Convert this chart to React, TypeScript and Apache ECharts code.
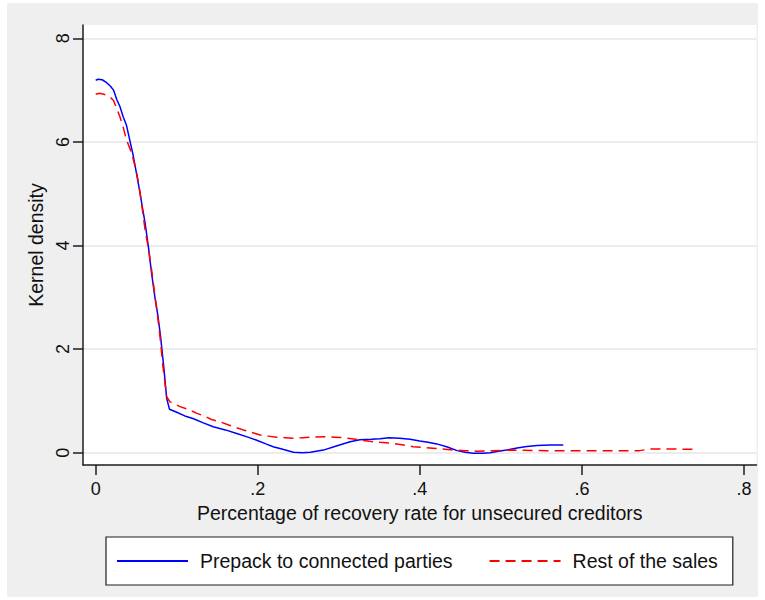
import React, { useEffect, useRef } from "react";
import * as echarts from "echarts";

const FONT = "'Liberation Sans', Arial, sans-serif";

const xTicks = [0, 0.2, 0.4, 0.6, 0.8];
const xTickLabels = ["0", ".2", ".4", ".6", ".8"];
const yTicks = [0, 2, 4, 6, 8];
const yTickLabels = ["0", "2", "4", "6", "8"];

const seriesNames = ["Prepack to connected parties", "Rest of the sales"];

const prepackX = [
  0.0, 0.003, 0.008, 0.013, 0.018, 0.022, 0.026, 0.03, 0.034, 0.038, 0.042, 0.046, 0.05, 0.054, 0.058,
  0.061, 0.065, 0.069, 0.073, 0.077, 0.08, 0.084, 0.0876, 0.091, 0.1, 0.11, 0.12, 0.132, 0.145, 0.16,
  0.174, 0.186, 0.198, 0.21, 0.219, 0.232, 0.244, 0.255, 0.265, 0.281, 0.297, 0.314, 0.326, 0.34, 0.351,
  0.362, 0.375, 0.388, 0.4, 0.41, 0.421, 0.434, 0.446, 0.456, 0.466, 0.478, 0.487, 0.497, 0.507, 0.52,
  0.532, 0.545, 0.561, 0.577,
];
const prepackY = [
  7.19, 7.21, 7.2, 7.15, 7.08, 7.0, 6.82, 6.68, 6.48, 6.32, 6.04, 5.76, 5.42, 5.08, 4.7,
  4.43, 3.98, 3.46, 3.01, 2.62, 2.25, 1.66, 1.05, 0.84, 0.78, 0.71, 0.66, 0.58, 0.5, 0.44,
  0.37, 0.31, 0.245, 0.17, 0.116, 0.06, 0.01, 0.0, 0.01, 0.05, 0.13, 0.21, 0.25, 0.26, 0.27,
  0.29, 0.28, 0.26, 0.225, 0.2, 0.17, 0.11, 0.04, 0.01, -0.01, -0.01, 0.0, 0.03, 0.05, 0.09,
  0.12, 0.14, 0.15, 0.15,
];

const restX = [
  0.0, 0.005, 0.01, 0.014, 0.018, 0.022, 0.026, 0.03, 0.034, 0.038, 0.044, 0.05, 0.054, 0.058, 0.061,
  0.065, 0.069, 0.073, 0.077, 0.08, 0.083, 0.0876, 0.0917, 0.104, 0.115, 0.125, 0.135, 0.143, 0.153,
  0.165, 0.182, 0.193, 0.203, 0.213, 0.223, 0.234, 0.244, 0.256, 0.268, 0.285, 0.295, 0.305, 0.316,
  0.326, 0.338, 0.351, 0.367, 0.38, 0.392, 0.404, 0.416, 0.428, 0.441, 0.455, 0.47, 0.49, 0.515,
  0.556, 0.597, 0.639, 0.671, 0.684, 0.712, 0.739,
];
const restY = [
  6.92, 6.94, 6.92, 6.9, 6.86, 6.8, 6.64, 6.48, 6.28, 6.04, 5.8, 5.45, 5.1, 4.65, 4.3,
  3.95, 3.53, 3.05, 2.56, 2.15, 1.66, 1.08, 0.98, 0.89, 0.83, 0.76, 0.7, 0.64, 0.6,
  0.53, 0.44, 0.39, 0.34, 0.32, 0.3, 0.29, 0.28, 0.29, 0.3, 0.31, 0.3, 0.29, 0.27,
  0.245, 0.22, 0.2, 0.18, 0.15, 0.116, 0.1, 0.085, 0.07, 0.05, 0.04, 0.03, 0.04, 0.05,
  0.04, 0.04, 0.04, 0.04, 0.07, 0.07, 0.065,
];

const zip = (xs: number[], ys: number[]) => xs.map((x, i) => [x, ys[i]]);

export default function App() {
  const ref = useRef<HTMLDivElement>(null);

  useEffect(() => {
    document.body.style.margin = "0";
    if (!ref.current) return;
    const chart = echarts.init(ref.current, undefined, { renderer: "svg" });
    const axisLineStyle = { color: "#1e1e1e", width: 1.5 };
    chart.setOption({
      animation: false,
      backgroundColor: "#efefef",
      textStyle: { fontFamily: FONT },
      grid: {
        left: 76,
        top: 22,
        right: 1.5,
        bottom: 132,
        show: true,
        backgroundColor: "#ffffff",
        borderWidth: 0,
        containLabel: false,
      },
      legend: {
        left: 99,
        top: 534,
        orient: "horizontal",
        backgroundColor: "#ffffff",
        borderColor: "#1e1e1e",
        borderWidth: 1.2,
        borderRadius: 0,
        padding: [13, 15, 13, 10],
        itemGap: 36,
        itemWidth: 71,
        itemHeight: 14,
        data: seriesNames,
        itemStyle: { opacity: 0, color: "transparent", borderWidth: 0 },
        textStyle: {
          fontFamily: FONT,
          fontSize: 19.5,
          color: "#111",
          padding: [0, 0, 0, 7],
          lineHeight: 22,
        },
      },
      xAxis: {
        type: "value",
        min: -0.01567,
        max: 0.8155,
        name: "Percentage of recovery rate for unsecured creditors",
        nameLocation: "middle",
        nameGap: 33,
        nameTextStyle: { fontFamily: FONT, fontSize: 19.5, color: "#111" },
        axisLine: { show: true, onZero: false, lineStyle: axisLineStyle },
        axisTick: { show: true, length: 10, lineStyle: axisLineStyle, customValues: xTicks },
        axisLabel: {
          customValues: xTicks,
          margin: 15,
          fontFamily: FONT,
          fontSize: 18,
          color: "#111",
          formatter: (v: number) => {
            const i = xTicks.findIndex((t) => Math.abs(t - v) < 1e-9);
            return i >= 0 ? xTickLabels[i] : "";
          },
        },
        splitLine: { show: false },
      },
      yAxis: {
        type: "value",
        min: -0.2375,
        max: 8.257,
        name: "Kernel density",
        nameLocation: "middle",
        nameGap: 34,
        nameTextStyle: { fontFamily: FONT, fontSize: 19.5, color: "#111" },
        axisLine: { show: true, onZero: false, lineStyle: axisLineStyle },
        axisTick: { show: true, length: 10, lineStyle: axisLineStyle, customValues: yTicks },
        axisLabel: {
          customValues: yTicks,
          rotate: 90,
          margin: 11,
          fontFamily: FONT,
          fontSize: 18,
          color: "#111",
          formatter: (v: number) => {
            const i = yTicks.findIndex((t) => Math.abs(t - v) < 1e-9);
            return i >= 0 ? yTickLabels[i] : "";
          },
        },
        splitLine: { show: true, lineStyle: { color: "#e6e6e6", width: 1.5 } },
      },
      series: [
        {
          name: seriesNames[0],
          type: "line",
          data: zip(prepackX, prepackY),
          showSymbol: false,
          symbol: "none",
          lineStyle: { color: "#0000ff", width: 1.5 },
          itemStyle: { color: "#0000ff" },
          z: 3,
        },
        {
          name: seriesNames[1],
          type: "line",
          data: zip(restX, restY),
          showSymbol: false,
          symbol: "none",
          lineStyle: { color: "#ff0000", width: 1.5, type: [10, 6] },
          itemStyle: { color: "#ff0000" },
          z: 4,
        },
      ],
    });
    return () => chart.dispose();
  }, []);

  return (
    <div style={{ position: "relative", width: 765, height: 600, background: "#ffffff" }}>
      <div
        ref={ref}
        style={{ position: "absolute", left: 7, top: 3, width: 751, height: 594 }}
      />
    </div>
  );
}
